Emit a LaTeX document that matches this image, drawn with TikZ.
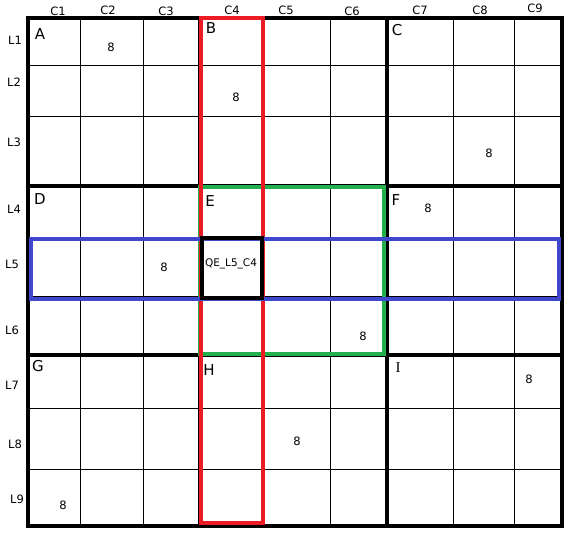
\documentclass[tikz,border=0pt]{standalone}
\usepackage{fontspec}
\setmainfont{DejaVu Sans}
\newfontfamily\letterserif{Liberation Serif}
\definecolor{paintred}{HTML}{ED1C24}
\definecolor{paintgreen}{HTML}{22B14C}
\definecolor{paintblue}{HTML}{3F48CC}
\begin{document}
\begin{tikzpicture}[x=1pt,y=-1pt,
		thinline/.style={line width=1pt},
		thickline/.style={line width=4pt},
		box/.style={line width=4pt},
		lbl/.style={font=\fontsize{11.5}{13}\selectfont,inner sep=0pt},
		blocklbl/.style={font=\fontsize{15}{17}\selectfont,inner sep=0pt},
		digit/.style={font=\fontsize{11.5}{13}\selectfont,inner sep=0pt}]
			\useasboundingbox[fill=white] (0,0) rectangle (571,534);
			% thin grid
			\foreach \x in {80,143,263,330,453,514}
				\draw[thinline] (\x,18) -- (\x,526);
			\foreach \y in {66,117,238,297,409,470}
				\draw[thinline] (28,\y) -- (562,\y);
			% block borders
			\foreach \x in {200,387}
				\draw[thickline] (\x,18) -- (\x,526);
			\foreach \y in {186,355}
				\draw[thickline] (28,\y) -- (562,\y);
			\draw[thickline] (28,18) rectangle (562,526);
			% highlighted zones
			\draw[box,paintgreen] (200,187) rectangle (384,354);
			\draw[box,paintred] (201,18) rectangle (263,523);
			\draw[box,paintblue] (31,239) rectangle (559,299);
			\draw[box] (202,238) rectangle (262,298);
			% column and row labels
			\node[lbl] (c1) at (58,11) {C1};
			\node[lbl] (c2) at (108,10) {C2};
			\node[lbl] (c3) at (166,11) {C3};
			\node[lbl] (c4) at (232,10) {C4};
			\node[lbl] (c5) at (286,10) {C5};
			\node[lbl] (c6) at (352,11) {C6};
			\node[lbl] (c7) at (420,10) {C7};
			\node[lbl] (c8) at (480,10) {C8};
			\node[lbl] (c9) at (535,8) {C9};
			\node[lbl] (l1) at (15,40) {L1};
			\node[lbl] (l2) at (14,82) {L2};
			\node[lbl] (l3) at (14,142) {L3};
			\node[lbl] (l4) at (14,209) {L4};
			\node[lbl] (l5) at (12,264) {L5};
			\node[lbl] (l6) at (12,330) {L6};
			\node[lbl] (l7) at (12,385) {L7};
			\node[lbl] (l8) at (15,444) {L8};
			\node[lbl] (l9) at (17,499) {L9};
			% block letters
			\node[blocklbl] (ba) at (40,34) {A};
			\node[blocklbl] (bb) at (211,28) {B};
			\node[blocklbl] (bc) at (397,30) {C};
			\node[blocklbl] (bd) at (40,199) {D};
			\node[blocklbl] (be) at (210,201) {E};
			\node[blocklbl] (bf) at (396,200) {F};
			\node[blocklbl] (bg) at (38,366) {G};
			\node[blocklbl] (bh) at (209,370) {H};
			\node[blocklbl,font=\fontsize{15}{17}\letterserif] (bi) at (398,368) {I};
			% givens
			\node[digit] (d1) at (111,47) {8};
			\node[digit] (d2) at (236,97) {8};
			\node[digit] (d3) at (489,153) {8};
			\node[digit] (d4) at (428,208) {8};
			\node[digit] (d5) at (164,267) {8};
			\node[digit] (d6) at (363,336) {8};
			\node[digit] (d7) at (529,379) {8};
			\node[digit] (d8) at (297,441) {8};
			\node[digit] (d9) at (63,505) {8};
			\node[lbl,font=\fontsize{10.5}{12}\selectfont] (qe) at (231,264) {QE\_L5\_C4};
		\end{tikzpicture}
\end{document}
